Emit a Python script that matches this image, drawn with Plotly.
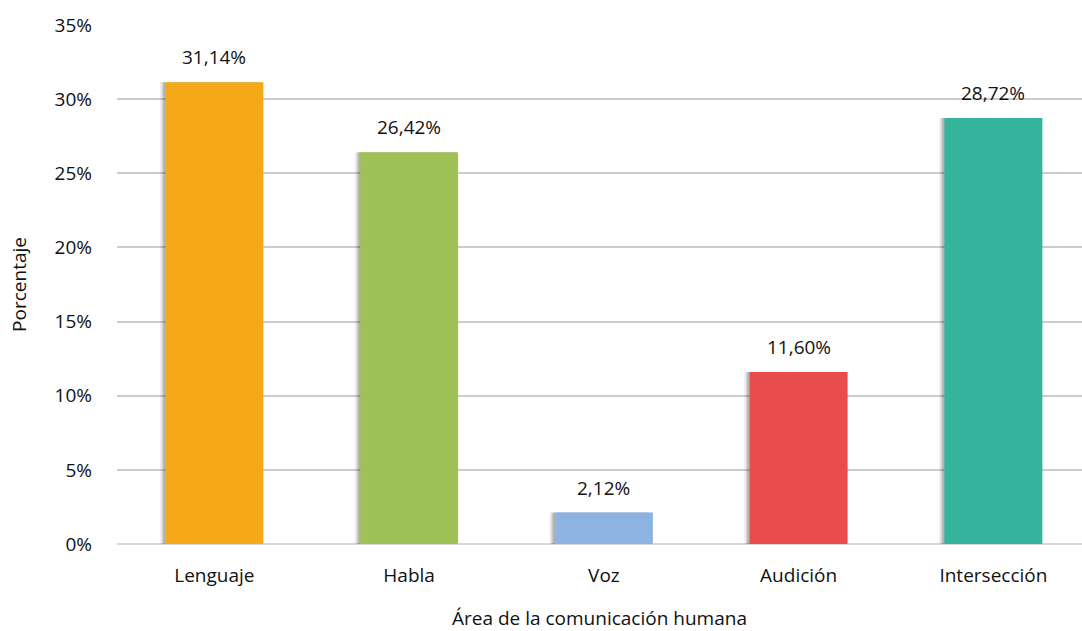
import plotly.graph_objects as go

categorias = ["Lenguaje", "Habla", "Voz", "Audición", "Intersección"]
porcentajes = [31.14, 26.42, 2.12, 11.60, 28.72]
colores = ["#F5A918", "#A0C155", "#8DB3E2", "#E84C4C", "#34B39D"]
ticks_y = [0, 5, 10, 15, 20, 25, 30, 35]
etiquetas_y = [f"{v}%" for v in ticks_y]

FUENTE = "'Open Sans', sans-serif"
TAM = 19

def formato(v):
    return f"{v:.2f}".replace(".", ",") + "%"

fig = go.Figure()

# soft drop shadow behind each bar
for dx, alpha in [(-0.028, 0.06), (-0.020, 0.10), (-0.012, 0.16)]:
    fig.add_trace(go.Bar(
        x=categorias, y=porcentajes,
        width=0.503, offset=-0.2515 + dx,
        marker=dict(color=f"rgba(0,0,0,{alpha})", line=dict(width=0)),
        hoverinfo="skip", showlegend=False,
    ))

fig.add_trace(go.Bar(
    x=categorias, y=porcentajes,
    width=0.503, offset=-0.2515,
    marker=dict(color=colores, line=dict(width=0)),
    showlegend=False,
))

# value labels above each bar
for c, v in zip(categorias, porcentajes):
    fig.add_annotation(
        x=c, y=v, text=formato(v), showarrow=False,
        yanchor="bottom", yshift=10,
        font=dict(family=FUENTE, size=TAM, color="#111111"),
    )

fig.update_layout(
    width=1082, height=631,
    margin=dict(l=117, r=0, t=25, b=87),
    paper_bgcolor="white", plot_bgcolor="white",
    barmode="overlay",
    font=dict(family=FUENTE, size=TAM, color="#111111"),
    xaxis=dict(
        range=[-0.5, 4.455],
        showgrid=False, showline=False, ticks="",
        ticklabelstandoff=18,
        tickfont=dict(size=TAM),
        title=dict(text="Área de la comunicación humana", font=dict(size=TAM), standoff=28),
    ),
    yaxis=dict(
        range=[0, 35], tickvals=ticks_y, ticktext=etiquetas_y,
        showgrid=True, gridcolor="#CCCCCC", gridwidth=2,
        zeroline=True, zerolinecolor="#D9D9D9", zerolinewidth=2,
        showline=False, ticks="", ticklabelstandoff=24,
        tickfont=dict(size=TAM),
        title=dict(text="Porcentaje", font=dict(size=TAM), standoff=22),
    ),
)

fig.write_html("out.html")
